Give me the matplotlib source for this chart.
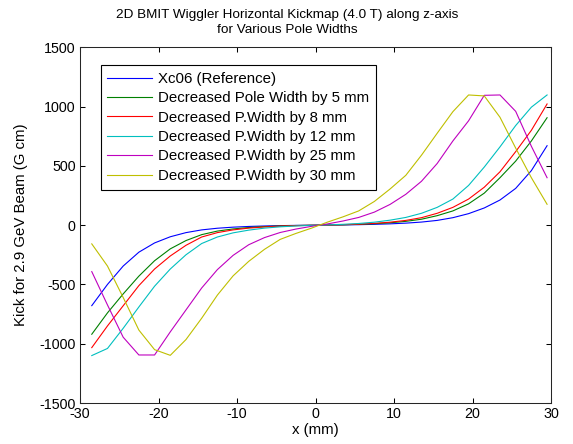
import numpy as np
import matplotlib
matplotlib.use("Agg")
import matplotlib.pyplot as plt

plt.rcParams['font.family'] = ['Liberation Sans', 'DejaVu Sans']
plt.rcParams['axes.unicode_minus'] = False

# --- Data (x in mm, kick in G cm) ---
x_mm = [-28.5, -26.5, -24.5, -22.5, -20.5, -18.5, -16.5, -14.5, -12.5, -10.5,
        -8.5, -6.5, -4.5, -2.5, -0.5, 1.5, 3.5, 5.5, 7.5, 9.5,
        11.5, 13.5, 15.5, 17.5, 19.5, 21.5, 23.5, 25.5, 27.5, 29.5]

kick_ref = [-679, -500, -345, -228, -150, -98, -63, -40, -26, -17,
            -11, -7, -4, -2, -1, 1, 2, 4, 7, 11,
            17, 26, 40, 63, 97, 145, 212, 310, 460, 670]
kick_5mm = [-920, -740, -580, -430, -300, -200, -130, -80, -50, -32,
            -20, -12, -7, -3, -1, 1, 3, 7, 12, 20,
            32, 50, 80, 120, 180, 270, 400, 540, 710, 906]
kick_8mm = [-1033, -850, -680, -510, -370, -260, -170, -100, -63, -40,
            -25, -15, -8, -4, -1, 1, 4, 8, 15, 25,
            40, 63, 100, 150, 220, 320, 450, 620, 800, 1022]
kick_12mm = [-1100, -1040, -870, -690, -515, -370, -250, -155, -100, -65,
             -42, -25, -14, -7, -2, 2, 7, 14, 25, 42,
             65, 100, 150, 220, 335, 490, 660, 840, 995, 1098]
kick_25mm = [-392, -673, -945, -1095, -1095, -900, -715, -530, -375, -255,
             -165, -105, -62, -33, -10, 10, 35, 65, 110, 175,
             260, 370, 520, 710, 880, 1095, 1098, 960, 665, 400]
kick_30mm = [-158, -345, -610, -885, -1050, -1098, -965, -785, -590, -428,
             -305, -204, -120, -70, -25, 25, 70, 120, 200, 305,
             420, 590, 775, 957, 1098, 1090, 910, 650, 400, 176]

labels = ['Xc06 (Reference)',
          'Decreased Pole Width by 5 mm',
          'Decreased P.Width by 8 mm',
          'Decreased P.Width by 12 mm',
          'Decreased P.Width by 25 mm',
          'Decreased P.Width by 30 mm']
series = [kick_ref, kick_5mm, kick_8mm, kick_12mm, kick_25mm, kick_30mm]
colors = ['#0000ff', '#008000', '#ff0000', '#00bfbf', '#bf00bf', '#bfbf00']

fig = plt.figure(figsize=(5.73, 4.44), dpi=100)
ax = fig.add_axes([80 / 573, 1 - 403 / 444, 471 / 573, 355.7 / 444])

for ys, c, lab in zip(series, colors, labels):
    ax.plot(x_mm, ys, color=c, lw=0.8, label=lab)

ax.set_xlim(-30, 30)
ax.set_ylim(-1500, 1500)
ax.set_xticks(np.arange(-30, 31, 10))
ax.set_yticks(np.arange(-1500, 1501, 500))
ax.tick_params(direction='in', length=3.6, width=0.75, labelsize=10.3,
               top=True, right=True, pad=3)
for sp in ax.spines.values():
    sp.set_linewidth(0.75)
    sp.set_color('#262626')

ax.set_xlabel('x (mm)', fontsize=10.8, labelpad=1)
ax.set_ylabel('Kick for 2.9 GeV Beam (G cm)', fontsize=10.8, labelpad=8)

fig.text(287 / 573, 1 - 22.5 / 444,
         '2D BMIT Wiggler Horizontal Kickmap (4.0 T) along z-axis\nfor Various Pole Widths',
         ha='center', va='center', fontsize=9.7, linespacing=1.4)

leg = ax.legend(loc='upper left', bbox_to_anchor=(0.044, 0.950), borderaxespad=0,
                fontsize=10.8, handlelength=2.95, handletextpad=0.45,
                labelspacing=0.36, borderpad=0.45, fancybox=False, framealpha=1)
leg.get_frame().set_edgecolor('black')
leg.get_frame().set_linewidth(0.8)

fig.savefig('out.png', dpi=100)
